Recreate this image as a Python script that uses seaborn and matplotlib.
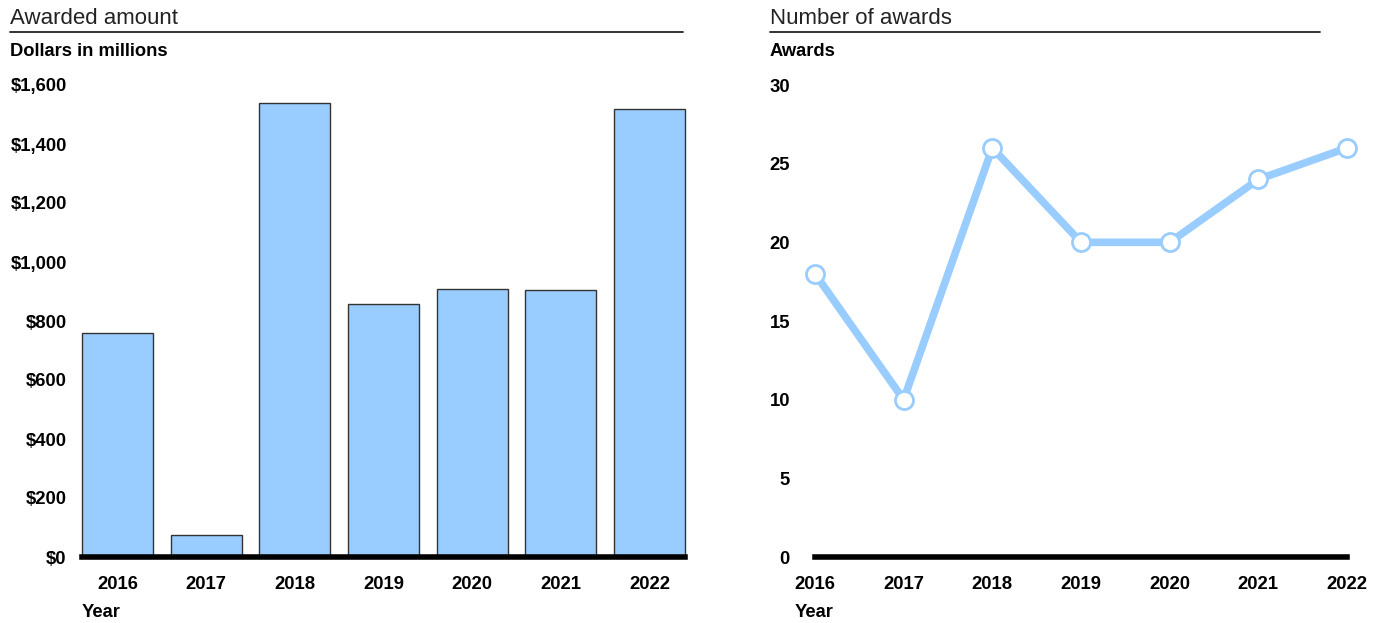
import numpy as np
import pandas as pd
import matplotlib
matplotlib.use('Agg')
import matplotlib.pyplot as plt
import seaborn as sns
from matplotlib.lines import Line2D
from matplotlib.ticker import FuncFormatter

years = ['2016', '2017', '2018', '2019', '2020', '2021', '2022']
amounts = [760, 75, 1540, 858, 907, 905, 1519]
awards = [18, 10, 26, 20, 20, 24, 26]

sns.set_style('white')
plt.rcParams['font.family'] = ['Liberation Sans', 'DejaVu Sans']
plt.rcParams['text.color'] = 'black'

blue = '#99ccff'
W, H = 1377, 623
fig = plt.figure(figsize=(W / 100, H / 100), dpi=100)

def fx(px):
    return px / W

def fy(py):
    return 1 - py / H

ax1 = fig.add_axes([fx(82), fy(557), fx(685 - 82), fy(85) - fy(557)])
ax2 = fig.add_axes([fx(815), fy(557), fx(1347 - 815), fy(85) - fy(557)])

df_amt = pd.DataFrame({'year': years, 'amount': amounts})
df_aw = pd.DataFrame({'year': years, 'awards': awards})

# bars
sns.barplot(data=df_amt, x='year', y='amount', ax=ax1, color=blue,
            width=0.8, edgecolor='#333333', linewidth=1, saturation=1)
ax1.set_xlim(-0.4, 6.4)
ax1.set_ylim(0, 1600)
ax1.set_yticks(range(0, 1601, 200))
ax1.yaxis.set_major_formatter(FuncFormatter(lambda v, p: f'${v:,.0f}'))
for p in ax1.patches:
    p.set_clip_on(False)

# line
sns.lineplot(data=df_aw, x='year', y='awards', ax=ax2, color=blue,
             linewidth=5.5, marker='o', markersize=13, markerfacecolor='white',
             markeredgecolor=blue, markeredgewidth=2, sort=False)
ax2.set_xlim(0, 6)
ax2.set_ylim(0, 30)
ax2.set_yticks(range(0, 31, 5))

for ax, ypad in ((ax1, 11), (ax2, 18)):
    ax.set_xlabel('')
    ax.set_ylabel('')
    for s in ['top', 'right', 'left']:
        ax.spines[s].set_visible(False)
    ax.spines['bottom'].set_linewidth(4)
    ax.spines['bottom'].set_color('black')
    ax.spines['bottom'].set_zorder(5)
    ax.tick_params(axis='both', length=0, labelsize=13.3, colors='black')
    ax.tick_params(axis='x', pad=14)
    ax.tick_params(axis='y', pad=ypad)
    for lab in ax.get_xticklabels() + ax.get_yticklabels():
        lab.set_fontweight('bold')
    ax.grid(False)
for ln in ax2.lines:
    ln.set_clip_on(False)

# titles and labels
fig.text(fx(10), fy(24), 'Awarded amount', fontsize=16, color='#222222', va='baseline')
fig.text(fx(770), fy(24), 'Number of awards', fontsize=16, color='#222222', va='baseline')
fig.add_artist(Line2D([fx(10), fx(683)], [fy(32), fy(32)], color='#222222', lw=1.3))
fig.add_artist(Line2D([fx(770), fx(1320)], [fy(32), fy(32)], color='#222222', lw=1.3))
fig.text(fx(10), fy(56), 'Dollars in millions', fontsize=13.2, fontweight='bold', va='baseline')
fig.text(fx(770), fy(56), 'Awards', fontsize=13.2, fontweight='bold', va='baseline')
fig.text(fx(82), fy(617), 'Year', fontsize=13.2, fontweight='bold', va='baseline')
fig.text(fx(795), fy(617), 'Year', fontsize=13.2, fontweight='bold', va='baseline')

fig.savefig('out.png', dpi=100)
